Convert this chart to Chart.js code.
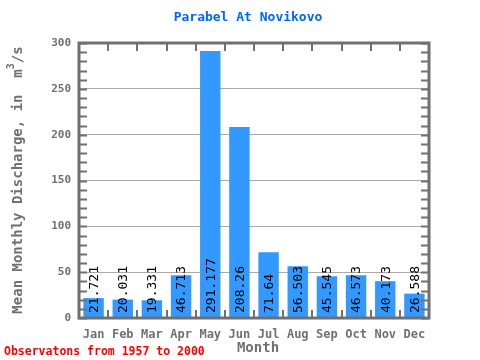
<!DOCTYPE html>
<html>
<head>
<meta charset="utf-8">
<script src="https://cdn.jsdelivr.net/npm/chart.js@4/dist/chart.umd.min.js"></script>
<style>
  body { margin: 0; background: #fff; }
  #wrap { width: 480px; height: 360px; }
</style>
</head>
<body>
<div id="wrap"><canvas id="myChart" width="480" height="360"></canvas></div>
<script>
'use strict';

// chart data
var months = ['Jan', 'Feb', 'Mar', 'Apr', 'May', 'Jun', 'Jul', 'Aug', 'Sep', 'Oct', 'Nov', 'Dec'];
var discharge = [21.721, 20.031, 19.331, 46.713, 291.177, 208.26, 71.64, 56.503, 45.545, 46.573, 40.173, 26.588];
var valueLabels = ['21.721', '20.031', '19.331', '46.713', '291.177', '208.26', '71.64', '56.503', '45.545', '46.573', '40.173', '26.588'];
var yTicks = [0, 50, 100, 150, 200, 250, 300];

var titleText = 'Parabel At Novikovo';
var yTitle = 'Mean Monthly Discharge, in  m';
var xTitle = 'Month';
var noteText = 'Observatons from 1957 to 2000';

var mono = '"DejaVu Sans Mono", "Liberation Mono", monospace';
var axisGrey = '#707070';

// extra drawing: frame, minor ticks, bar labels, titles
var decorPlugin = {
  id: 'decor',
  afterDatasetsDraw: function (chart) {
    var ctx = chart.ctx;
    var area = chart.chartArea;
    var yScale = chart.scales.y;
    var xScale = chart.scales.x;
    var meta = chart.getDatasetMeta(0);

    // value labels inside bars
    ctx.save();
    ctx.fillStyle = '#000';
    ctx.font = '13px ' + mono;
    ctx.textAlign = 'left';
    ctx.textBaseline = 'middle';
    for (var i = 0; i < meta.data.length; i++) {
      var bar = meta.data[i];
      ctx.save();
      ctx.translate(bar.x + 1, area.bottom - 5);
      ctx.rotate(-Math.PI / 2);
      ctx.fillText(valueLabels[i], 0, 0);
      ctx.restore();
    }
    ctx.restore();

    // frame
    ctx.save();
    ctx.strokeStyle = axisGrey;
    ctx.lineWidth = 3;
    ctx.strokeRect(area.left, area.top, area.right - area.left, area.bottom - area.top);

    // minor / major y ticks on both sides
    ctx.lineWidth = 2;
    for (var v = 0; v <= 300; v += 10) {
      var py = Math.round(yScale.getPixelForValue(v)) + 0.5;
      ctx.beginPath();
      ctx.moveTo(area.left, py);
      ctx.lineTo(area.left + 8, py);
      ctx.moveTo(area.right, py);
      ctx.lineTo(area.right - 8, py);
      ctx.stroke();
    }
    // category boundary ticks top and bottom
    for (var k = 1; k < months.length; k++) {
      var px = Math.round((xScale.getPixelForValue(k - 1) + xScale.getPixelForValue(k)) / 2);
      ctx.beginPath();
      ctx.moveTo(px, area.top);
      ctx.lineTo(px, area.top + 8);
      ctx.moveTo(px, area.bottom);
      ctx.lineTo(px, area.bottom - 8);
      ctx.stroke();
    }
    ctx.restore();

    // title
    ctx.save();
    ctx.textAlign = 'center';
    ctx.textBaseline = 'middle';
    ctx.fillStyle = '#0066ff';
    ctx.font = 'bold 13px ' + mono;
    ctx.fillText(titleText, 248, 18);

    // x axis title
    ctx.fillStyle = '#707070';
    ctx.font = 'bold 14px ' + mono;
    ctx.fillText(xTitle, 258, 348);

    // note
    ctx.textAlign = 'left';
    ctx.fillStyle = '#ff0000';
    ctx.font = 'bold 11.5px ' + mono;
    ctx.fillText(noteText, 4, 352);

    // y axis title with superscript
    ctx.translate(18, 180);
    ctx.rotate(-Math.PI / 2);
    ctx.fillStyle = '#707070';
    ctx.font = 'bold 14px ' + mono;
    var mainW = ctx.measureText(yTitle).width;
    ctx.font = 'bold 10px ' + mono;
    var supW = ctx.measureText('3').width;
    var restW;
    ctx.font = 'bold 14px ' + mono;
    restW = ctx.measureText('/s').width;
    var startX = -(mainW + supW + restW) / 2;
    ctx.textAlign = 'left';
    ctx.fillText(yTitle, startX, 0);
    ctx.font = 'bold 10px ' + mono;
    ctx.fillText('3', startX + mainW, -7);
    ctx.font = 'bold 14px ' + mono;
    ctx.fillText('/s', startX + mainW + supW, 0);
    ctx.restore();
  }
};

function makeChart() {
  var ctx = document.getElementById('myChart').getContext('2d');
  var chart = new Chart(ctx, {
    type: 'bar',
    data: {
      labels: months,
      datasets: [{
        data: discharge,
        backgroundColor: '#3399ff',
        borderWidth: 0,
        barPercentage: 0.7,
        categoryPercentage: 1.0
      }]
    },
    options: {
      responsive: false,
      animation: false,
      layout: { padding: { left: 0, right: 51, top: 43, bottom: 0 } },
      plugins: {
        legend: { display: false },
        title: { display: false },
        tooltip: { enabled: false }
      },
      scales: {
        x: {
          grid: { display: false, drawTicks: false },
          border: { display: false },
          ticks: {
            color: '#707070',
            font: { family: mono, size: 12, weight: 'bold' },
            padding: 10,
            maxRotation: 0
          },
          afterFit: function (scale) { scale.height = 42; }
        },
        y: {
          min: 0,
          max: 300,
          afterBuildTicks: function (scale) {
            scale.ticks = yTicks.map(function (t) { return { value: t }; });
          },
          grid: { color: '#aaaaaa', lineWidth: 1, drawTicks: false },
          border: { display: false },
          ticks: {
            color: '#707070',
            font: { family: mono, size: 11, weight: 'bold' },
            padding: 8
          },
          afterFit: function (scale) { scale.width = 79; }
        }
      }
    },
    plugins: [decorPlugin]
  });
  return chart;
}

makeChart();
</script>
</body>
</html>
